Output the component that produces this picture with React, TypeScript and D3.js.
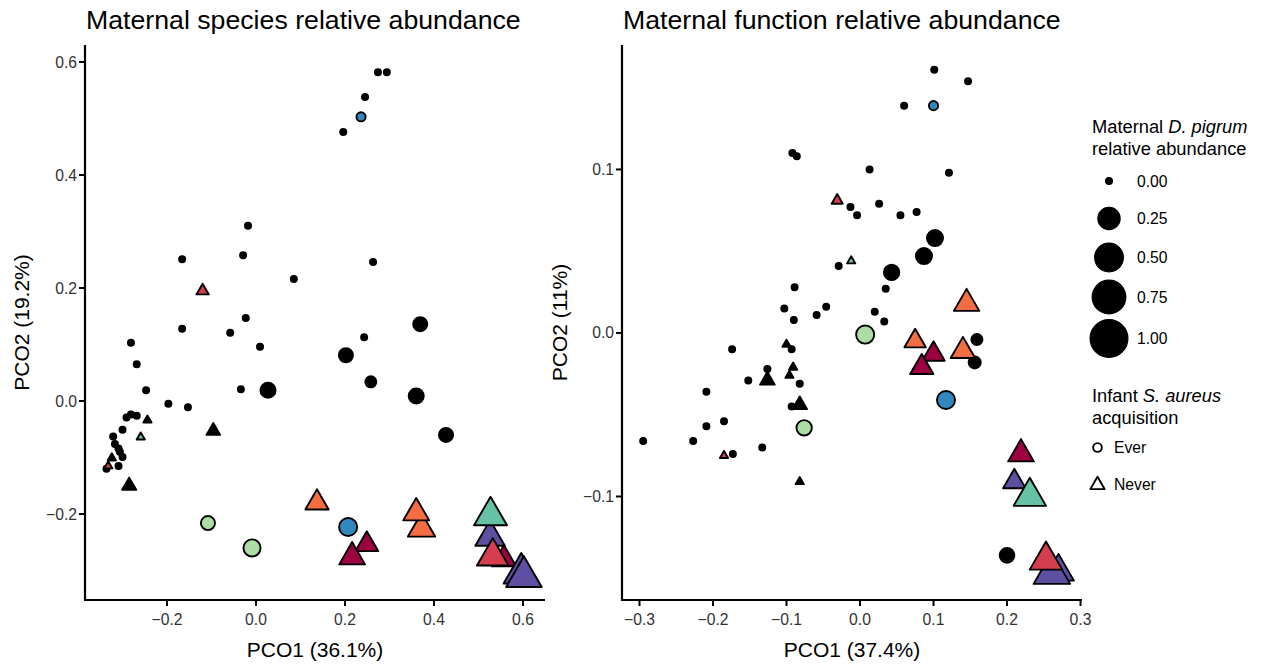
import React from "react";
import * as d3 from "d3";

// ---------------- Data ----------------
// Colour groups (Spectral palette); "" = black (no colour group)
const groupColors: Record<string, string> = {
  "": "#000000",
  orange: "#F46D43",
  red: "#D53E4F",
  crimson: "#9E0142",
  purple: "#5E4FA2",
  teal: "#66C2A5",
  blue: "#3288BD",
  green: "#ABDDA4",
};

// Left panel: maternal species relative abundance
const speciesPCO1 = [
  0.274, 0.294, 0.245, 0.196, -0.018, -0.166, -0.029, 0.263, 0.085, -0.023,
  -0.166, -0.058, 0.243, 0.009, -0.281, -0.268, -0.247, -0.034, -0.197, -0.153,
  -0.281, -0.291, -0.268, -0.3, -0.321, -0.317, -0.309, -0.306, -0.3, -0.336,
  -0.309, 0.236,
  0.369, 0.202, 0.258, 0.027, 0.36, 0.427,
  -0.096, -0.285, -0.244, -0.324,
  -0.12, -0.259, -0.332,
  -0.108, -0.009, 0.207,
  0.137, 0.249, 0.216, 0.372, 0.36, 0.526, 0.527, 0.557, 0.532, 0.596, 0.602,
];
const speciesPCO2 = [
  0.582, 0.582, 0.538, 0.476, 0.31, 0.251, 0.258, 0.246, 0.216, 0.147,
  0.128, 0.121, 0.113, 0.096, 0.103, 0.065, 0.019, 0.021, -0.005, -0.011,
  -0.024, -0.029, -0.026, -0.051, -0.063, -0.076, -0.084, -0.09, -0.099, -0.12,
  -0.115, 0.503,
  0.136, 0.081, 0.034, 0.019, 0.009, -0.06,
  -0.053, -0.15, -0.034, -0.101,
  0.195, -0.064, -0.115,
  -0.216, -0.26, -0.223,
  -0.18, -0.254, -0.276, -0.226, -0.198, -0.241, -0.203, -0.28, -0.275, -0.305, -0.311,
];
const speciesDpigrum = [
  0, 0, 0, 0, 0, 0, 0, 0, 0, 0,
  0, 0, 0, 0, 0, 0, 0, 0, 0, 0,
  0, 0, 0, 0, 0, 0, 0, 0, 0, 0,
  0, 0.01,
  0.067, 0.067, 0.026, 0.084, 0.084, 0.067,
  0.017, 0.02, 0, 0,
  0.01, 0, 0,
  0.067, 0.126, 0.15,
  0.13, 0.126, 0.176, 0.21, 0.18, 0.26, 0.35, 0.15, 0.315, 0.42, 0.43,
];
const speciesAcquisition = [
  "Ever", "Ever", "Ever", "Ever", "Ever", "Ever", "Ever", "Ever", "Ever", "Ever",
  "Ever", "Ever", "Ever", "Ever", "Ever", "Ever", "Ever", "Ever", "Ever", "Ever",
  "Ever", "Ever", "Ever", "Ever", "Ever", "Ever", "Ever", "Ever", "Ever", "Ever",
  "Ever", "Ever",
  "Ever", "Ever", "Ever", "Ever", "Ever", "Ever",
  "Never", "Never", "Never", "Never",
  "Never", "Never", "Never",
  "Ever", "Ever", "Ever",
  "Never", "Never", "Never", "Never", "Never", "Never", "Never", "Never", "Never", "Never", "Never",
];
const speciesGroup = [
  "", "", "", "", "", "", "", "", "", "",
  "", "", "", "", "", "", "", "", "", "",
  "", "", "", "", "", "", "", "", "", "",
  "", "blue",
  "", "", "", "", "", "",
  "", "", "", "",
  "red", "teal", "red",
  "green", "green", "blue",
  "orange", "crimson", "crimson", "orange", "orange", "purple", "teal", "crimson", "red", "purple", "purple",
];

// Right panel: maternal function relative abundance
const functionPCO1 = [
  0.101, 0.147, 0.06, -0.092, -0.086, 0.013, 0.121, -0.013, -0.004, 0.026,
  0.055, 0.077, -0.029, 0.035, -0.089, -0.103, -0.09, -0.059, -0.046, 0.02,
  0.033, -0.093, -0.174, -0.126, -0.152, -0.082, -0.209, -0.093, -0.209, -0.185,
  -0.295, -0.227, -0.173, -0.133, 0.1,
  0.102, 0.087, 0.043, 0.159, 0.156, 0.2,
  -0.1, -0.091, -0.096, -0.082, -0.126, -0.082,
  -0.031, -0.012, -0.185,
  0.007, -0.076, 0.117,
  0.075, 0.1, 0.084, 0.145, 0.14, 0.219, 0.21, 0.231, 0.27, 0.261, 0.253,
];
const functionPCO2 = [
  0.161, 0.154, 0.139, 0.11, 0.108, 0.1, 0.098, 0.077, 0.072, 0.079,
  0.072, 0.074, 0.041, 0.027, 0.028, 0.015, 0.008, 0.011, 0.016, 0.013,
  0.007, -0.01, -0.01, -0.022, -0.029, -0.031, -0.036, -0.045, -0.057, -0.054,
  -0.066, -0.066, -0.074, -0.07, 0.139,
  0.058, 0.047, 0.037, -0.004, -0.018, -0.136,
  -0.007, -0.021, -0.026, -0.091, -0.029, -0.044,
  0.081, 0.044, -0.075,
  -0.001, -0.058, -0.041,
  -0.005, -0.013, -0.021, 0.018, -0.011, -0.074, -0.091, -0.1, -0.146, -0.147, -0.139,
];
const functionDpigrum = [
  0, 0, 0, 0, 0, 0, 0, 0, 0, 0,
  0, 0, 0, 0, 0, 0, 0, 0, 0, 0,
  0, 0, 0, 0, 0, 0, 0, 0, 0, 0,
  0, 0, 0, 0, 0.01,
  0.104, 0.104, 0.09, 0.026, 0.037, 0.078,
  0, 0, 0, 0, 0.024, 0.024,
  0.005, 0, 0,
  0.15, 0.09, 0.15,
  0.1, 0.117, 0.13, 0.17, 0.15, 0.176, 0.117, 0.337, 0.294, 0.46, 0.337,
];
const functionAcquisition = [
  "Ever", "Ever", "Ever", "Ever", "Ever", "Ever", "Ever", "Ever", "Ever", "Ever",
  "Ever", "Ever", "Ever", "Ever", "Ever", "Ever", "Ever", "Ever", "Ever", "Ever",
  "Ever", "Ever", "Ever", "Ever", "Ever", "Ever", "Ever", "Ever", "Ever", "Ever",
  "Ever", "Ever", "Ever", "Ever", "Ever",
  "Ever", "Ever", "Ever", "Ever", "Ever", "Ever",
  "Never", "Never", "Never", "Never", "Never", "Never",
  "Never", "Never", "Never",
  "Ever", "Ever", "Ever",
  "Never", "Never", "Never", "Never", "Never", "Never", "Never", "Never", "Never", "Never", "Never",
];
const functionGroup = [
  "", "", "", "", "", "", "", "", "", "",
  "", "", "", "", "", "", "", "", "", "",
  "", "", "", "", "", "", "", "", "", "",
  "", "", "", "", "blue",
  "", "", "", "", "", "",
  "", "", "", "", "", "",
  "red", "teal", "red",
  "green", "green", "blue",
  "orange", "crimson", "crimson", "orange", "orange", "crimson", "purple", "teal", "purple", "purple", "red",
];

// Axis ticks
const speciesXTicks = [-0.2, 0.0, 0.2, 0.4, 0.6];
const speciesYTicks = [-0.2, 0.0, 0.2, 0.4, 0.6];
const functionXTicks = [-0.3, -0.2, -0.1, 0.0, 0.1, 0.2, 0.3];
const functionYTicks = [-0.1, 0.0, 0.1];

// Legend
const sizeLegendValues = [0, 0.25, 0.5, 0.75, 1];
const sizeLegendLabels = ["0.00", "0.25", "0.50", "0.75", "1.00"];
const shapeLegendValues = ["Ever", "Never"];

// ---------------- Drawing ----------------
const FONT = "'Liberation Sans', Arial, Helvetica, sans-serif";
const STROKE = 1.9;
const sizeScale = d3.scaleSqrt().domain([0, 1]).range([4, 19.5]);
const fmt = d3.format(".1f");

function trianglePath(R: number) {
  const top = 1.555 * R;
  const hw = 1.347 * R;
  const bot = 0.778 * R;
  return `M0,${-top}L${hw},${bot}L${-hw},${bot}Z`;
}

function Marker({ shape, R, fill, x, y, sw = STROKE }: any) {
  const r = Math.max(R - sw / 2, 1);
  if (shape === "Never") {
    return (
      <path
        d={trianglePath(r)}
        transform={`translate(${x},${y})`}
        fill={fill}
        stroke="#000"
        strokeWidth={sw}
        strokeLinejoin="round"
      />
    );
  }
  return <circle cx={x} cy={y} r={r} fill={fill} stroke="#000" strokeWidth={sw} />;
}

type PanelProps = {
  title: string;
  xLabel: string;
  yLabel: string;
  left: number;
  right: number;
  top: number;
  bottom: number;
  xDomain: [number, number];
  yDomain: [number, number];
  xTicks: number[];
  yTicks: number[];
  xs: number[];
  ys: number[];
  sizes: number[];
  shapes: string[];
  groups: string[];
  yTitleX: number;
};

function Panel(p: PanelProps) {
  const x = d3.scaleLinear().domain(p.xDomain).range([p.left, p.right]);
  const y = d3.scaleLinear().domain(p.yDomain).range([p.bottom, p.top]);
  const tickColor = "#333333";
  return (
    <g>
      <text x={p.left + 1} y={29} fontFamily={FONT} fontSize={26.7} fill="#000">
        {p.title}
      </text>
      {/* points */}
      {p.xs.map((v, i) => (
        <Marker
          key={i}
          shape={p.shapes[i]}
          R={sizeScale(p.sizes[i])}
          fill={groupColors[p.groups[i]]}
          x={x(v)}
          y={y(p.ys[i])}
        />
      ))}
      {/* axes */}
      <line x1={p.left} x2={p.left} y1={p.top} y2={p.bottom + 1} stroke="#000" strokeWidth={2.2} />
      <line x1={p.left - 1} x2={p.right} y1={p.bottom} y2={p.bottom} stroke="#000" strokeWidth={2.2} />
      {p.xTicks.map((t) => (
        <g key={"x" + t}>
          <line x1={x(t)} x2={x(t)} y1={p.bottom} y2={p.bottom + 6} stroke="#000" strokeWidth={2} />
          <text
            x={x(t)}
            y={p.bottom + 25}
            textAnchor="middle"
            fontFamily={FONT}
            fontSize={15.7}
            fill={tickColor}
          >
            {fmt(t)}
          </text>
        </g>
      ))}
      {p.yTicks.map((t) => (
        <g key={"y" + t}>
          <line x1={p.left - 6} x2={p.left} y1={y(t)} y2={y(t)} stroke="#000" strokeWidth={2} />
          <text
            x={p.left - 8}
            y={y(t) + 5.5}
            textAnchor="end"
            fontFamily={FONT}
            fontSize={15.7}
            fill={tickColor}
          >
            {fmt(t)}
          </text>
        </g>
      ))}
      <text
        x={(p.left + p.right) / 2}
        y={657}
        textAnchor="middle"
        fontFamily={FONT}
        fontSize={21}
        fill="#000"
      >
        {p.xLabel}
      </text>
      <text
        transform={`translate(${p.yTitleX},${(p.top + p.bottom) / 2}) rotate(-90)`}
        textAnchor="middle"
        fontFamily={FONT}
        fontSize={21}
        fill="#000"
      >
        {p.yLabel}
      </text>
    </g>
  );
}

function Legend() {
  const cx = 1109;
  const sizeYs = [181, 218.5, 257.5, 297, 338.5];
  return (
    <g fontFamily={FONT}>
      <text x={1092} y={133} fontSize={18.3} fill="#000">
        Maternal <tspan fontStyle="italic">D. pigrum</tspan>
      </text>
      <text x={1092} y={155} fontSize={18.3} fill="#000">
        relative abundance
      </text>
      {sizeLegendValues.map((v, i) => (
        <g key={v}>
          <Marker shape="Ever" R={sizeScale(v)} fill="#000" x={cx} y={sizeYs[i]} sw={1.2} />
          <text x={1137} y={sizeYs[i] + 5.5} fontSize={15.7} fill="#000">
            {sizeLegendLabels[i]}
          </text>
        </g>
      ))}
      <text x={1092} y={402} fontSize={18.3} fill="#000">
        Infant <tspan fontStyle="italic">S. aureus</tspan>
      </text>
      <text x={1092} y={424} fontSize={18.3} fill="#000">
        acquisition
      </text>
      {shapeLegendValues.map((s, i) => (
        <g key={s}>
          <Marker
            shape={s}
            R={s === "Ever" ? 5.3 : 6.2}
            fill="none"
            x={1097.5}
            y={i === 0 ? 447.5 : 485}
            sw={1.9}
          />
          <text x={1114} y={(i === 0 ? 447.5 : 484) + 5.5} fontSize={15.7} fill="#000">
            {s}
          </text>
        </g>
      ))}
    </g>
  );
}

export default function App() {
  return (
    <svg
      width={1261}
      height={664}
      viewBox="0 0 1261 664"
      style={{ position: "absolute", left: 0, top: 0, background: "#fff" }}
    >
      <rect x={0} y={0} width={1261} height={664} fill="#fff" />
      <Panel
        title="Maternal species relative abundance"
        xLabel="PCO1 (36.1%)"
        yLabel="PCO2 (19.2%)"
        left={85}
        right={545}
        top={45}
        bottom={600}
        xDomain={[-0.3843, 0.6494]}
        yDomain={[-0.3522, 0.6301]}
        xTicks={speciesXTicks}
        yTicks={speciesYTicks}
        xs={speciesPCO1}
        ys={speciesPCO2}
        sizes={speciesDpigrum}
        shapes={speciesAcquisition}
        groups={speciesGroup}
        yTitleX={29}
      />
      <Panel
        title="Maternal function relative abundance"
        xLabel="PCO1 (37.4%)"
        yLabel="PCO2 (11%)"
        left={622}
        right={1082}
        top={45}
        bottom={600}
        xDomain={[-0.3238, 0.302]}
        yDomain={[-0.1633, 0.1761]}
        xTicks={functionXTicks}
        yTicks={functionYTicks}
        xs={functionPCO1}
        ys={functionPCO2}
        sizes={functionDpigrum}
        shapes={functionAcquisition}
        groups={functionGroup}
        yTitleX={567}
      />
      <Legend />
    </svg>
  );
}
